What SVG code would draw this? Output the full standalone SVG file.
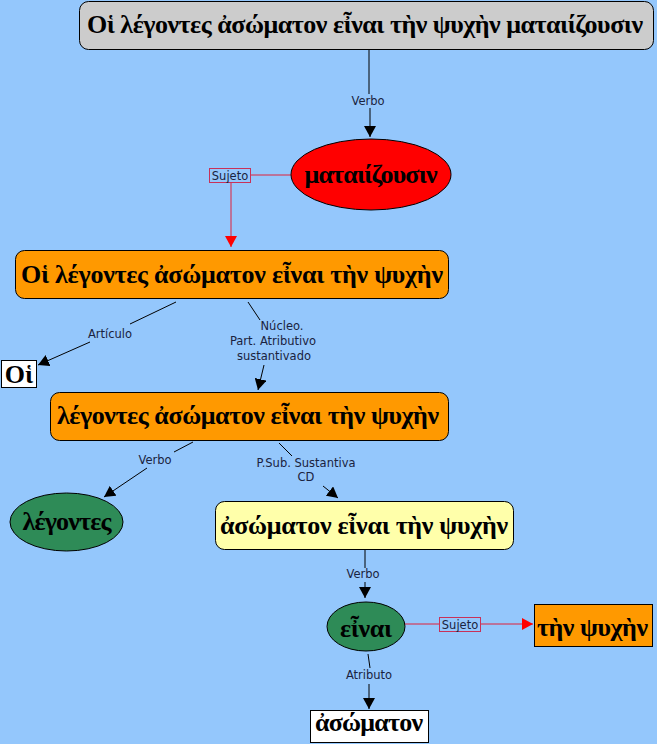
<svg xmlns="http://www.w3.org/2000/svg" width="657" height="744" viewBox="0 0 657 744">
<style>
.g{font-family:"Liberation Serif","DejaVu Serif",serif;font-weight:bold;font-size:26px;fill:#000;text-anchor:middle}
.l{font-family:"DejaVu Sans","Liberation Sans",sans-serif;font-size:11.5px;fill:#1a2340;text-anchor:middle}
.n{stroke:#000;stroke-width:1}
.c{stroke:#000;stroke-width:1;fill:none}
.r{stroke:#e0203a;stroke-width:1;fill:none}
.sl{fill:none;stroke:#c8325a;stroke-width:1}
</style>
<defs>
<marker id="ab" markerUnits="userSpaceOnUse" markerWidth="12" markerHeight="12" refX="11" refY="6" orient="auto"><path d="M0,0 L11,6 L0,12 z" fill="#000"/></marker>
<marker id="ar" markerUnits="userSpaceOnUse" markerWidth="12" markerHeight="12" refX="11" refY="6" orient="auto"><path d="M0,0 L11,6 L0,12 z" fill="#ff0000"/></marker>
</defs>
<rect width="657" height="744" fill="#94c7fc"/>
<g id="connectors">
<line class="c" x1="369" y1="50" x2="369" y2="94"/>
<text class="l" x="368" y="105">Verbo</text>
<line class="c" x1="370" y1="108" x2="370" y2="137" marker-end="url(#ab)"/>
<line class="r" x1="291" y1="175" x2="251" y2="175"/>
<rect class="sl" x="209.5" y="168.5" width="41" height="14"/>
<text class="l" x="230" y="179.5">Sujeto</text>
<line class="r" x1="231" y1="183" x2="231" y2="247" marker-end="url(#ar)"/>
<line class="c" x1="176" y1="302" x2="130" y2="324"/>
<text class="l" x="110" y="338">Artículo</text>
<line class="c" x1="90" y1="342" x2="38" y2="365" marker-end="url(#ab)"/>
<line class="c" x1="248" y1="302" x2="260" y2="320"/>
<text class="l" x="282" y="330">Núcleo.</text>
<text class="l" x="273" y="345">Part. Atributivo</text>
<text class="l" x="274" y="360">sustantivado</text>
<line class="c" x1="264" y1="365" x2="258" y2="390" marker-end="url(#ab)"/>
<line class="c" x1="193" y1="442" x2="174" y2="452"/>
<text class="l" x="155" y="464">Verbo</text>
<line class="c" x1="147" y1="468" x2="104" y2="497" marker-end="url(#ab)"/>
<line class="c" x1="279" y1="443" x2="292" y2="456"/>
<text class="l" x="306" y="467">P.Sub. Sustantiva</text>
<text class="l" x="306" y="481">CD</text>
<line class="c" x1="323" y1="486" x2="338" y2="498" marker-end="url(#ab)"/>
<line class="c" x1="365" y1="549" x2="365" y2="568"/>
<text class="l" x="363" y="578">Verbo</text>
<line class="c" x1="365" y1="582" x2="365" y2="598" marker-end="url(#ab)"/>
<line class="r" x1="405" y1="624" x2="439" y2="624"/>
<rect class="sl" x="439.5" y="617.5" width="41" height="14"/>
<text class="l" x="460" y="628.5">Sujeto</text>
<line class="r" x1="481" y1="624" x2="533" y2="624" marker-end="url(#ar)"/>
<line class="c" x1="368" y1="654" x2="370" y2="668"/>
<text class="l" x="369" y="679">Atributo</text>
<line class="c" x1="369" y1="684" x2="369" y2="709" marker-end="url(#ab)"/>
</g>
<g id="n1"><rect class="n" x="79.5" y="1.5" width="574" height="48" rx="9" fill="#cccccc"/><text class="g" x="365" y="33" textLength="556">Οἱ λέγοντες ἀσώματον εἶναι τὴν ψυχὴν ματαιίζουσιν</text></g>
<g id="n2"><ellipse class="n" cx="371" cy="174.5" rx="80" ry="35.5" fill="#ff0000"/><text class="g" x="371" y="183" textLength="133">ματαιίζουσιν</text></g>
<g id="n3"><rect class="n" x="15.5" y="250.5" width="433" height="48" rx="9" fill="#ff9900"/><text class="g" x="232" y="283" textLength="422">Οἱ λέγοντες ἀσώματον εἶναι τὴν ψυχὴν</text></g>
<g id="n4"><rect class="n" x="1.5" y="360.5" width="35" height="27" fill="#ffffff"/><text class="g" x="19" y="383">Οἱ</text></g>
<g id="n5"><rect class="n" x="50.5" y="392.5" width="398" height="48" rx="9" fill="#ff9900"/><text class="g" x="248" y="424" textLength="382">λέγοντες ἀσώματον εἶναι τὴν ψυχὴν</text></g>
<g id="n6"><ellipse class="n" cx="66.5" cy="522" rx="56.5" ry="29" fill="#2e8b57"/><text class="g" x="67" y="530" textLength="89">λέγοντες</text></g>
<g id="n7"><rect class="n" x="215.5" y="501.5" width="298" height="48" rx="9" fill="#ffffaa"/><text class="g" x="364" y="534" textLength="288">ἀσώματον εἶναι τὴν ψυχὴν</text></g>
<g id="n8"><ellipse class="n" cx="366" cy="626.5" rx="39" ry="24.5" fill="#2e8b57"/><text class="g" x="366" y="637" textLength="52">εἶναι</text></g>
<g id="n9"><rect class="n" x="534.5" y="604.5" width="118" height="42" fill="#ff9900"/><text class="g" x="592.5" y="636" textLength="111">τὴν ψυχὴν</text></g>
<g id="n10"><rect class="n" x="310.5" y="710.5" width="118" height="32" fill="#ffffff"/><text class="g" x="369" y="731" textLength="108">ἀσώματον</text></g>
</svg>
